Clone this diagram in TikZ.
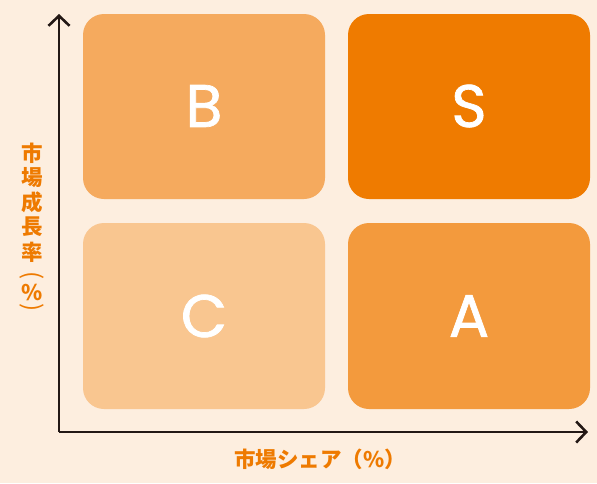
\documentclass[tikz,border=0pt]{standalone}
\usepackage{fontspec}
\usetikzlibrary{arrows.meta}
\newfontfamily\cjk{Noto Sans CJK JP}
\newfontfamily\latf{Poppins}[FakeBold=1.2]
\definecolor{bgc}{HTML}{FDEEDF}
\definecolor{cB}{HTML}{F5AA5E}
\definecolor{cS}{HTML}{EF7B00}
\definecolor{cC}{HTML}{F9C690}
\definecolor{cA}{HTML}{F39A3D}
\definecolor{txo}{HTML}{EE7A00}
\definecolor{axc}{HTML}{231815}
\begin{document}
\begin{tikzpicture}[x=1pt,y=-1pt,
  quad/.style={rounded corners=21pt, inner sep=0pt},
  letter/.style={text=white, font=\latf\fontsize{60}{60}\selectfont, inner sep=0pt},
  lab/.style={text=txo, font=\cjk\bfseries\fontsize{21.5}{21.5}\selectfont, inner sep=0pt},
  vparen/.style={lab, font=\cjk\fontsize{24}{24}\selectfont, rotate=-90},
  axis/.style={draw=axc, line width=2.6pt, -{Straight Barb[length=10pt,width=21pt,line width=2.6pt]}}]
\fill[bgc] (0,0) rectangle (597,483);
\useasboundingbox (0,0) rectangle (597,483);
% quadrants
\fill[cB, quad] (83,14) rectangle (325,199);
\fill[cS, quad] (348,14) rectangle (590,199);
\fill[cC, quad] (83,223) rectangle (325,409);
\fill[cA, quad] (348,223) rectangle (590,409);
\node[letter] (lB) at (204,106) {B};
\node[letter] (lS) at (469,106) {S};
\node[letter] (lC) at (204,316) {C};
\node[letter] (lA) at (469,316) {A};
% axes
\coordinate (o) at (59,432);
\coordinate (ytip) at (59,14);
\coordinate (xtip) at (588,432);
\draw[axis] (o) -- (ytip);
\draw[axis] (o) -- (xtip);
% labels
\node[lab] (xl) at (320,459) {市場シェア（\%）};
\node[lab] (y1) at (32,153) {市};
\node[lab] (y2) at (32,178) {場};
\node[lab] (y3) at (32,202) {成};
\node[lab] (y4) at (32,227) {長};
\node[lab] (y5) at (32,252) {率};
\node[vparen] (y6) at (32,276) {(};
\node[lab] (y7) at (32,292) {\%};
\node[vparen] (y8) at (32,308) {)};
\end{tikzpicture}
\end{document}
